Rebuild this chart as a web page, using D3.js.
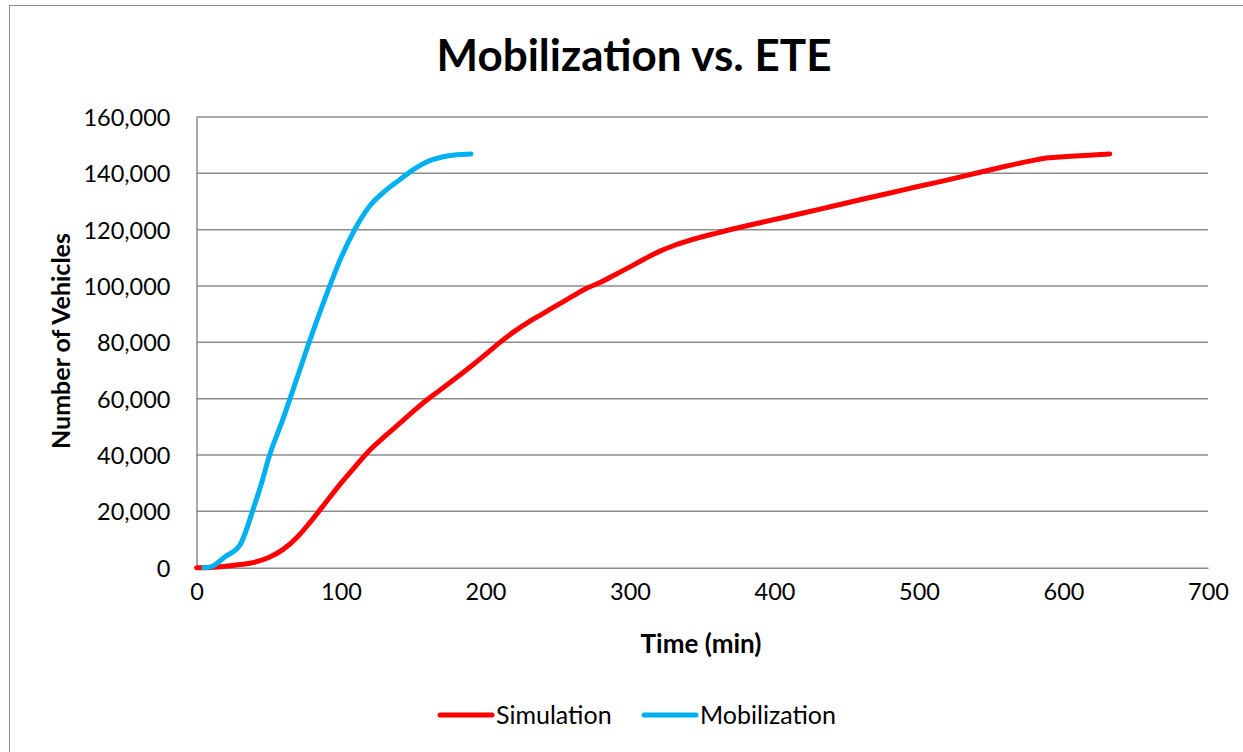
<!DOCTYPE html>
<html><head><meta charset="utf-8">
<script src="https://cdn.jsdelivr.net/npm/d3@7"></script>
<style>body{margin:0;background:#fff}svg{display:block}text{font-family:Lato,"Open Sans",sans-serif}</style>
</head><body><svg id="c" width="1243" height="752"></svg>
<script>
const simTime = [0,10,20,30,40,50,60,70,80,90,100,110,120,130,140,150,160,170,180,190,200,210,220,230,240,250,260,270,280,290,300,310,320,330,340,360,380,400,420,440,460,480,500,520,540,560,580,590,600,620,632];
const simVehicles = [0,100,500,1100,1900,3600,6500,11000,17000,23500,30000,36000,41800,46500,51000,55500,59800,63600,67500,71500,75700,80000,83900,87300,90300,93300,96300,99200,101400,104100,106800,109600,112200,114300,116000,118800,121300,123600,125900,128300,130700,133000,135400,137700,140100,142500,144700,145500,145900,146500,146900];
const mobTime = [5,10,20,30,40,45,50,60,70,80,90,100,110,120,130,140,150,160,170,180,190];
const mobVehicles = [0,300,4000,8000,22000,30000,39000,53000,68000,83000,97000,110000,120500,128500,133500,137500,141300,144200,145800,146600,146900];
const xTicks = [0,100,200,300,400,500,600,700];
const yTicks = [0,20000,40000,60000,80000,100000,120000,140000,160000];
const seriesNames = ["Simulation","Mobilization"];
const seriesColors = ["#FF0000","#00B0F0"];

const svg = d3.select("#c");
svg.append("rect").attr("x",9.5).attr("y",5.5).attr("width",1300).attr("height",800)
  .attr("fill","#fff").attr("stroke","#8c8c8c").attr("stroke-width",1);

const L=196.5, R=1208, T=117, B=567.7;
const x = d3.scaleLinear().domain([0,700]).range([L,R]);
const y = d3.scaleLinear().domain([0,160000]).range([B,T]);

svg.append("g").selectAll("line").data(yTicks.slice(1)).join("line")
  .attr("x1",L).attr("x2",R).attr("y1",d=>y(d)).attr("y2",d=>y(d))
  .attr("stroke","#8c8c8c").attr("stroke-width",1.5);

const fmt = d3.format(",");
const ya = svg.append("g").attr("transform",`translate(${L},0)`)
  .call(d3.axisLeft(y).tickValues(yTicks).tickFormat(fmt).tickSize(0).tickPadding(26));
const xa = svg.append("g").attr("transform",`translate(0,${B})`)
  .call(d3.axisBottom(x).tickValues(xTicks).tickSize(0).tickPadding(16));
[ya,xa].forEach(a=>{
  a.select(".domain").attr("stroke","#8c8c8c").attr("stroke-width",1.5);
  a.selectAll("text").attr("font-size",23.5).attr("fill","#000").attr("font-family","Lato");
});
ya.selectAll("text").attr("dy","0.36em");

const line = d3.line().x(d=>x(d[0])).y(d=>y(d[1])).curve(d3.curveMonotoneX);
const series = [d3.zip(simTime,simVehicles), d3.zip(mobTime,mobVehicles)];
series.forEach((s,i)=>{
  svg.append("path").datum(s).attr("d",line).attr("fill","none")
    .attr("stroke",seriesColors[i]).attr("stroke-width",5).attr("stroke-linecap","round").attr("stroke-linejoin","round");
});

svg.append("text").attr("x",634).attr("y",71).attr("text-anchor","middle")
  .attr("font-size",44).attr("font-weight","bold").text("Mobilization vs. ETE");
svg.append("text").attr("x",701).attr("y",653).attr("text-anchor","middle")
  .attr("font-size",26).attr("font-weight","bold").text("Time (min)");
svg.append("text").attr("transform","translate(70,341) rotate(-90)").attr("text-anchor","middle")
  .attr("font-size",25).attr("font-weight","bold").text("Number of Vehicles");

const legX = [440,644];
seriesNames.forEach((n,i)=>{
  const g = svg.append("g").attr("transform",`translate(${legX[i]},715)`);
  g.append("line").attr("x1",0).attr("x2",52).attr("stroke",seriesColors[i]).attr("stroke-width",5).attr("stroke-linecap","round");
  g.append("text").attr("x",56).attr("y",9).attr("font-size",25).text(n);
});
</script></body></html>
